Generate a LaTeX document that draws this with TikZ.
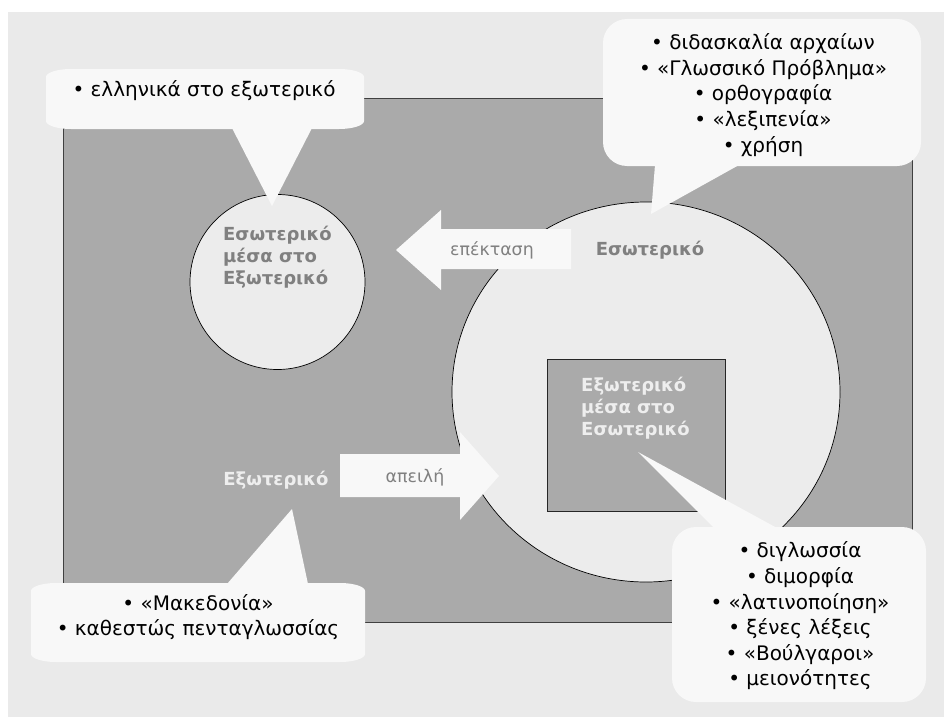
\documentclass[tikz,border=0pt]{standalone}
\usepackage{fontspec}
\setmainfont{DejaVu Sans}
\definecolor{bgc}{HTML}{EAEAEA}
\definecolor{darkc}{HTML}{AAAAAA}
\definecolor{lightc}{HTML}{ECECEC}
\definecolor{callc}{HTML}{F8F8F8}
\definecolor{grayt}{HTML}{808080}
\definecolor{whitet}{HTML}{EEEEEE}
\tikzset{
  callout/.style={fill=callc, draw=none},
  blockarrow/.style={fill=callc, draw=none},
  listtext/.style={align=center, inner sep=0pt, font=\fontsize{20}{25.6}\selectfont, text=black},
  boldgray/.style={align=left, inner sep=0pt, font=\fontsize{18}{22}\selectfont\bfseries, text=grayt},
  boldwhite/.style={align=left, inner sep=0pt, font=\fontsize{18}{22}\selectfont\bfseries, text=whitet},
  arrowtext/.style={inner sep=0pt, font=\fontsize{17.4}{20}\selectfont, text=grayt},
}
\begin{document}
\begin{tikzpicture}[x=1pt,y=-1pt]
\useasboundingbox (0,0) rectangle (944,717);
\fill[bgc] (8,12) rectangle (944,717);
% outer dark rectangle
\draw[fill=darkc, draw=black!75, line width=0.9pt] (63,98) rectangle (912,622);
% big circle
\draw[fill=lightc, draw=black, line width=0.7pt] (646,392) ellipse [x radius=194, y radius=190];
% inner square
\draw[fill=darkc, draw=black!85, line width=0.8pt] (547,359) rectangle (725,511);
% small circle
\draw[fill=lightc, draw=black, line width=0.7pt] (277.5,282) circle [radius=87.5];
% arrows
\fill[blockarrow] (571,229) -- (441,229) -- (441,210) -- (396,250) -- (441,290) -- (441,269) -- (571,269) -- cycle;
\fill[blockarrow] (340,454) -- (460,454) -- (460,432) -- (499,476) -- (460,520) -- (460,497) -- (340,497) -- cycle;
% callouts
\fill[callout] (46,77) .. controls (46,72.6) and (57.2,69) .. (71,69) -- (339,69) .. controls (352.8,69) and (364,72.6) .. (364,77) -- (364,121) .. controls (364,125.4) and (352.8,129) .. (339,129) -- (71,129) .. controls (57.2,129) and (46,125.4) .. (46,121) -- cycle;
\fill[callout] (232,128) -- (272,206) -- (312,128) -- cycle;
\fill[callout, rounded corners=24pt] (603,19) rectangle (921,166);
\fill[callout] (655,165) -- (651,214) -- (739,165) -- cycle;
\fill[callout] (31,591) .. controls (31,586.6) and (42.2,583) .. (56,583) -- (340,583) .. controls (353.8,583) and (365,586.6) .. (365,591) -- (365,654) .. controls (365,658.4) and (353.8,662) .. (340,662) -- (56,662) .. controls (42.2,662) and (31,658.4) .. (31,654) -- cycle;
\fill[callout] (227,584) -- (292,509) -- (308,584) -- cycle;
\fill[callout, rounded corners=24pt] (672,527) rectangle (926,702);
\fill[callout] (714,528) -- (638,452) -- (777,528) -- cycle;
% texts
\node[listtext] (t1) at (204,91) {• ελληνικά στο εξωτερικό};
\node[listtext] (t2) at (763,95) {• διδασκαλία αρχαίων\\• «Γλωσσικό Πρόβλημα»\\• ορθογραφία\\• «λεξιπενία»\\• χρήση};
\node[listtext] (t3) at (198,617) {• «Μακεδονία»\\• καθεστώς πενταγλωσσίας};
\node[listtext] (t4) at (800,616) {• διγλωσσία\\• διμορφία\\• «λατινοποίηση»\\• ξένες λέξεις\\• «Βούλγαροι»\\• μειονότητες};
\node[boldgray, anchor=west] (ein) at (223,257) {Εσωτερικό\\μέσα στο\\Εξωτερικό};
\node[boldwhite, anchor=west] (exin) at (581,408) {Εξωτερικό\\μέσα στο\\Εσωτερικό};
\node[boldgray] (eso) at (650,250) {Εσωτερικό};
\node[boldwhite] (exo) at (276,480) {Εξωτερικό};
\node[arrowtext] (epe) at (492,250) {επέκταση};
\node[arrowtext] (ape) at (415,477) {απειλή};
\end{tikzpicture}
\end{document}
